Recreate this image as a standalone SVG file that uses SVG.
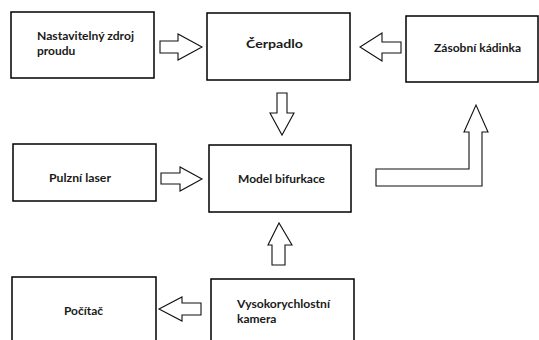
<svg xmlns="http://www.w3.org/2000/svg" width="539" height="340" viewBox="0 0 539 340">
<style>
.box{fill:#fff;stroke:#000;stroke-width:1.5}
.arr{fill:#fff;stroke:#111;stroke-width:1.1;stroke-linejoin:miter}
text{font-family:Lato,"Open Sans","Liberation Sans",sans-serif;font-weight:700;font-size:12px;fill:#1a1a1a}
</style>
<rect width="539" height="340" fill="#fff"/>
<g id="zdroj"><rect class="box" x="11" y="12" width="143" height="66"/>
<text x="37" y="40" textLength="97" lengthAdjust="spacingAndGlyphs">Nastavitelný zdroj</text>
<text x="37" y="55">proudu</text></g>
<g id="cerpadlo"><rect class="box" x="207" y="13" width="143" height="67"/>
<text x="246" y="48" textLength="57" lengthAdjust="spacingAndGlyphs">Čerpadlo</text></g>
<g id="kadinka"><rect class="box" x="406" y="16" width="132" height="66"/>
<text x="434" y="52" textLength="87" lengthAdjust="spacingAndGlyphs">Zásobní kádinka</text></g>
<g id="laser"><rect class="box" x="13" y="144" width="143" height="57"/>
<text x="49" y="182" textLength="62" lengthAdjust="spacingAndGlyphs">Pulzní laser</text></g>
<g id="model"><rect class="box" x="209" y="145" width="142" height="67"/>
<text x="238" y="183" textLength="87" lengthAdjust="spacingAndGlyphs">Model bifurkace</text></g>
<g id="pocitac"><rect class="box" x="12" y="277" width="144" height="70"/>
<text x="64" y="315" textLength="39" lengthAdjust="spacingAndGlyphs">Počítač</text></g>
<g id="kamera"><rect class="box" x="211" y="279" width="143" height="70"/>
<text x="237" y="308" textLength="93" lengthAdjust="spacingAndGlyphs">Vysokorychlostní</text>
<text x="237" y="323">kamera</text></g>
<g id="connectors">
<path class="arr" d="M160,41 H178 V34 L202,47 L178,60 V53 H160 Z"/>
<path class="arr" d="M401,42 H382 V33 L360,47 L382,61 V53 H401 Z"/>
<path class="arr" d="M277,93 V113 H270 L282,135 L294,113 H287 V93 Z"/>
<path class="arr" d="M161,173 H180 V167 L202,179 L180,191 V184 H161 Z"/>
<path class="arr" d="M376,169 H469 V132 H464 L476,105 L488,132 H482 V186 H376 Z"/>
<path class="arr" d="M272,265 V245 H268 L279,223 L292,245 H285 V265 Z"/>
<path class="arr" d="M201,303 H182 V297 L159,309 L182,321 V315 H201 Z"/>
</g>
</svg>
